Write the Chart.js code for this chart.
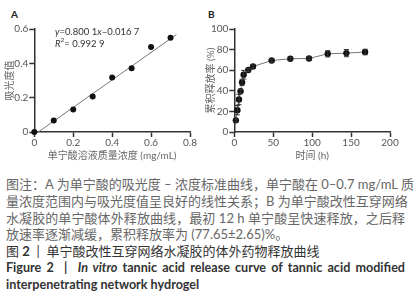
<!DOCTYPE html>
<html>
<head>
<meta charset="utf-8">
<script src="https://cdn.jsdelivr.net/npm/chart.js@4.4.1/dist/chart.umd.min.js"></script>
<style>
body { margin:0; width:417px; height:300px; background:#fff; position:relative; overflow:hidden; font-family: Lato, "Noto Sans CJK SC", sans-serif; }
#cA { position:absolute; left:0; top:0; }
#cB { position:absolute; left:200px; top:0; }
.tag { position:absolute; font-weight:bold; font-size:10px; color:#222; }
.cap { position:absolute; left:6px; top:176px; width:399px; font-size:13px; line-height:16.8px; color:#666; }
.cap div { white-space:nowrap; }
.cap .j { text-align:justify; text-align-last:justify; }
.cap .t { color:#333; }
.cap .f { color:#333; font-weight:bold; font-size:12.6px; }
</style>
</head>
<body>
<div class="tag" style="left:11px;top:8px;">A</div>
<div class="tag" style="left:208px;top:8px;">B</div>
<canvas id="cA" width="205" height="168"></canvas>
<canvas id="cB" width="210" height="168"></canvas>
<div class="cap">
  <div class="j">图注：A 为单宁酸的吸光度 – 浓度标准曲线，单宁酸在 0–0.7 mg/mL 质</div>
  <div class="j">量浓度范围内与吸光度值呈良好的线性关系；B 为单宁酸改性互穿网络</div>
  <div class="j">水凝胶的单宁酸体外释放曲线，最初 12 h 单宁酸呈快速释放，之后释</div>
  <div>放速率逐渐减缓，累积释放率为 (77.65±2.65)%。</div>
  <div class="t">图 <b>2</b> &nbsp;|&nbsp; 单宁酸改性互穿网络水凝胶的体外药物释放曲线</div>
  <div class="f j">Figure 2 &nbsp;|&nbsp; <i>In vitro</i> tannic acid release curve of tannic acid modified</div>
  <div class="f">interpenetrating network hydrogel</div>
</div>
<script>
// A: standard curve
const concA = [0, 0.1, 0.2, 0.3, 0.4, 0.5, 0.6, 0.7];
const absA = [0, 0.067, 0.131, 0.207, 0.318, 0.372, 0.495, 0.549];
const fitSlope = 0.8001;
const fitIntercept = -0.0167;
const fitRange = [0.021, 0.73];
const xTicksA = [0, 0.2, 0.4, 0.6, 0.8];
const yTicksA = [0, 0.2, 0.4, 0.6];

// B: release curve
const timeB = [2, 4, 6, 8, 10, 12, 18, 24, 48, 72, 96, 120, 144, 168];
const releaseB = [11.3, 21.2, 31.5, 39.5, 48.2, 55.6, 60.2, 63.6, 69.4, 71.1, 71.4, 75.9, 76.6, 77.65];
const errB = [1.5, 4.5, 5, 2, 3, 4.2, 1.5, 1.5, 1.5, 1.5, 1.2, 3, 3.5, 2.65];
const xTicksB = [0, 50, 100, 150, 200];
const yTicksB = [0, 20, 40, 60, 80, 100];

const fam = 'Lato, "Noto Sans CJK SC", sans-serif';
Chart.defaults.font.family = fam;
Chart.defaults.animation = false;

function makeAxis(tickList, min, max, title, isX, titlePad) {
    return {
        type: "linear",
        min: min,
        max: max,
        afterBuildTicks: function (s) { s.ticks = tickList.map(v => ({ value: v })); },
        afterFit: function (s) {
            if (isX) { s.height = 36; } else { s.width = 34.3; }
        },
        border: { color: "#333", width: 1.5 },
        grid: { drawOnChartArea: false, tickLength: 5, tickWidth: 1.5, tickColor: "#333" },
        ticks: { color: "#555", font: { size: 10 }, padding: isX ? 0 : 1, callback: v => String(v) },
        title: { display: true, text: title, color: "#666", font: { size: 10 }, padding: titlePad }
    };
}

const equationPlugin = {
    id: "equation",
    afterDraw(chart) {
        const c = chart.ctx;
        const xs = chart.scales.x, ys = chart.scales.y;
        let x = xs.getPixelForValue(0.106);
        let y = ys.getPixelForValue(0.582);
        c.save();
        c.fillStyle = "#333";
        c.textBaseline = "middle";
        const parts = [["y", true], ["=0.800 1", false], ["x", true], ["–0.016 7", false]];
        parts.forEach(p => {
            c.font = (p[1] ? "italic " : "") + "9.5px " + fam;
            c.fillText(p[0], x, y);
            x += c.measureText(p[0]).width;
        });
        x = xs.getPixelForValue(0.106);
        y = ys.getPixelForValue(0.512);
        c.font = "italic 9.5px " + fam;
        c.fillText("R", x, y);
        x += c.measureText("R").width;
        c.font = "6.5px " + fam;
        c.fillText("2", x, y - 4);
        x += c.measureText("2").width;
        c.font = "9.5px " + fam;
        c.fillText("= 0.992 9", x, y);
        c.restore();
    }
};

const errorBarPlugin = {
    id: "errorBars",
    afterDatasetsDraw(chart) {
        const c = chart.ctx;
        const xs = chart.scales.x, ys = chart.scales.y;
        c.save();
        c.strokeStyle = "#333";
        c.lineWidth = 1;
        timeB.forEach((t, i) => {
            const px = xs.getPixelForValue(t);
            const top = ys.getPixelForValue(releaseB[i] + errB[i]);
            const bot = ys.getPixelForValue(releaseB[i] - errB[i]);
            c.beginPath();
            c.moveTo(px, top); c.lineTo(px, bot);
            c.moveTo(px - 2.5, top); c.lineTo(px + 2.5, top);
            c.moveTo(px - 2.5, bot); c.lineTo(px + 2.5, bot);
            c.stroke();
        });
        c.restore();
    }
};

const chartA = new Chart(document.getElementById("cA"), {
    type: "scatter",
    data: {
        datasets: [
            {
                data: concA.map((v, i) => ({ x: v, y: absA[i] })),
                backgroundColor: "#111",
                borderWidth: 0,
                pointRadius: 3,
                showLine: false,
                clip: false
            },
            {
                data: fitRange.map(v => ({ x: v, y: fitSlope * v + fitIntercept })),
                borderColor: "#777",
                borderWidth: 1,
                pointRadius: 0,
                showLine: true,
                clip: false
            }
        ]
    },
    options: {
        responsive: false,
        layout: { padding: { left: 0, right: 15, top: 29, bottom: 0 } },
        plugins: { legend: { display: false }, tooltip: { enabled: false } },
        scales: {
            x: makeAxis(xTicksA, 0, 0.8, "单宁酸溶液质量浓度 (mg/mL)", true, { top: 0, bottom: 6 }),
            y: makeAxis(yTicksA, 0, 0.6, "吸光度值", false, { top: 3.5, bottom: 0 })
        }
    },
    plugins: [equationPlugin]
});

const chartB = new Chart(document.getElementById("cB"), {
    type: "scatter",
    data: {
        datasets: [
            {
                data: timeB.map((v, i) => ({ x: v, y: releaseB[i] })),
                backgroundColor: "#111",
                borderColor: "#777",
                borderWidth: 1,
                pointRadius: 3.2,
                pointBorderWidth: 0,
                showLine: true,
                clip: false
            }
        ]
    },
    options: {
        responsive: false,
        layout: { padding: { left: 0, right: 20, top: 29, bottom: 0 } },
        plugins: { legend: { display: false }, tooltip: { enabled: false } },
        scales: {
            x: makeAxis(xTicksB, 0, 200, "时间 (h)", true, { top: 0, bottom: 6 }),
            y: makeAxis(yTicksB, 0, 100, "累积释放率 (%)", false, { top: 5, bottom: 0 })
        }
    },
    plugins: [errorBarPlugin]
});
</script>
</body>
</html>
